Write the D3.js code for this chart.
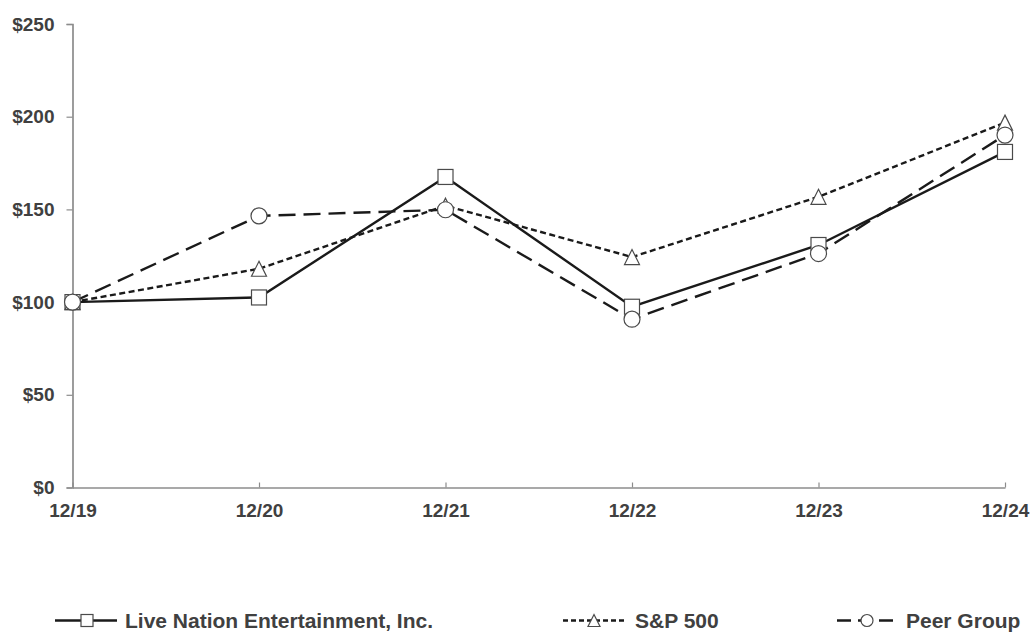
<!DOCTYPE html>
<html><head><meta charset="utf-8">
<script src="https://cdn.jsdelivr.net/npm/d3@7"></script>
<style>
html,body{margin:0;padding:0;background:#fff;}
svg text{font-family:"Liberation Sans",Arial,sans-serif;font-weight:bold;fill:#404040;}
</style></head>
<body><svg id="c" width="1030" height="633"></svg>
<script>
const categories = ["12/19","12/20","12/21","12/22","12/23","12/24"];
const liveNation = [100, 102.5, 167.5, 97.5, 130.8, 181];
const sp500 = [100, 118, 152, 124.3, 156.8, 196.8];
const peerGroup = [100, 146.5, 149.8, 90.8, 126.2, 190.1];
const yTicks = [0, 50, 100, 150, 200, 250];
const seriesNames = ["Live Nation Entertainment, Inc.", "S&P 500", "Peer Group"];

const svg = d3.select("#c");
const x = d3.scalePoint().domain(categories).range([72.5, 1005]);
const y = d3.scaleLinear().domain([0, 250]).range([487.5, 24]);
const axisColor = "#8c8c8c";

// axes
const yAxis = svg.append("g").attr("transform","translate(72.5,0)")
  .call(d3.axisLeft(y).tickValues(yTicks).tickSize(6).tickPadding(12).tickFormat(d=>"$"+d));
yAxis.select(".domain").attr("stroke",axisColor).attr("stroke-width",1.7);
yAxis.selectAll(".tick line").attr("stroke",axisColor).attr("stroke-width",1.2);
yAxis.selectAll(".tick text").style("font-size","19px").attr("fill","#404040");

const xAxis = svg.append("g").attr("transform","translate(0,487.5)")
  .call(d3.axisBottom(x).tickSize(0).tickPadding(0));
xAxis.select(".domain").attr("stroke",axisColor).attr("stroke-width",1.7);
xAxis.selectAll(".tick text").style("font-size","19px").attr("fill","#404040")
  .attr("y",23).attr("dy","0.35em");
xAxis.selectAll(".tick").append("line").attr("y1",0).attr("y2",-5)
  .attr("stroke",axisColor).attr("stroke-width",1.2);

const series = [
  {name: seriesNames[0], values: liveNation, dash: null, marker: "square", legDash: null},
  {name: seriesNames[1], values: sp500, dash: "6,3.5", marker: "triangle", legDash: "5,3"},
  {name: seriesNames[2], values: peerGroup, dash: "17,8", marker: "circle", legDash: "14,7"}
];
const line = d3.line().x((d,i)=>x(categories[i])).y(d=>y(d));

function drawMarker(g, type, cx, cy, s){
  const h = s/2;
  if(type==="square"){
    g.append("rect").attr("x",cx-h).attr("y",cy-h).attr("width",s).attr("height",s)
      .attr("fill","#fff").attr("stroke","#4a4a4a").attr("stroke-width",1.2);
  } else if(type==="triangle"){
    g.append("path").attr("d",`M${cx},${cy-h}L${cx+h},${cy+h}L${cx-h},${cy+h}Z`)
      .attr("fill","#fff").attr("stroke","#4a4a4a").attr("stroke-width",1.2);
  } else {
    g.append("circle").attr("cx",cx).attr("cy",cy).attr("r",h)
      .attr("fill","#fff").attr("stroke","#4a4a4a").attr("stroke-width",1.2);
  }
}

// lines
series.forEach(s=>{
  svg.append("path").datum(s.values).attr("d",line).attr("fill","none")
    .attr("stroke","#1a1a1a").attr("stroke-width",2.4)
    .attr("stroke-dasharray",s.dash);
});
// markers
series.forEach(s=>{
  const g = svg.append("g");
  s.values.forEach((v,i)=>drawMarker(g, s.marker, x(categories[i]), y(v), s.marker==="circle"?16:15));
});

// legend
const legendX = [55, 563, 837];
const legLen = [62, 64, 61];
const legMarkerX = [87, 594, 867];
const legY = 620.5;
series.forEach((s,i)=>{
  const g = svg.append("g");
  const x0 = legendX[i];
  g.append("line").attr("x1",x0).attr("x2",x0+legLen[i]).attr("y1",legY).attr("y2",legY)
    .attr("stroke","#1a1a1a").attr("stroke-width",2.4).attr("stroke-dasharray",s.legDash);
  drawMarker(g, s.marker, legMarkerX[i], legY, 12);
  g.append("text").attr("x",x0+legLen[i]+8).attr("y",legY).attr("dy","0.35em")
    .style("font-size","21px").text(s.name);
});
</script></body></html>
